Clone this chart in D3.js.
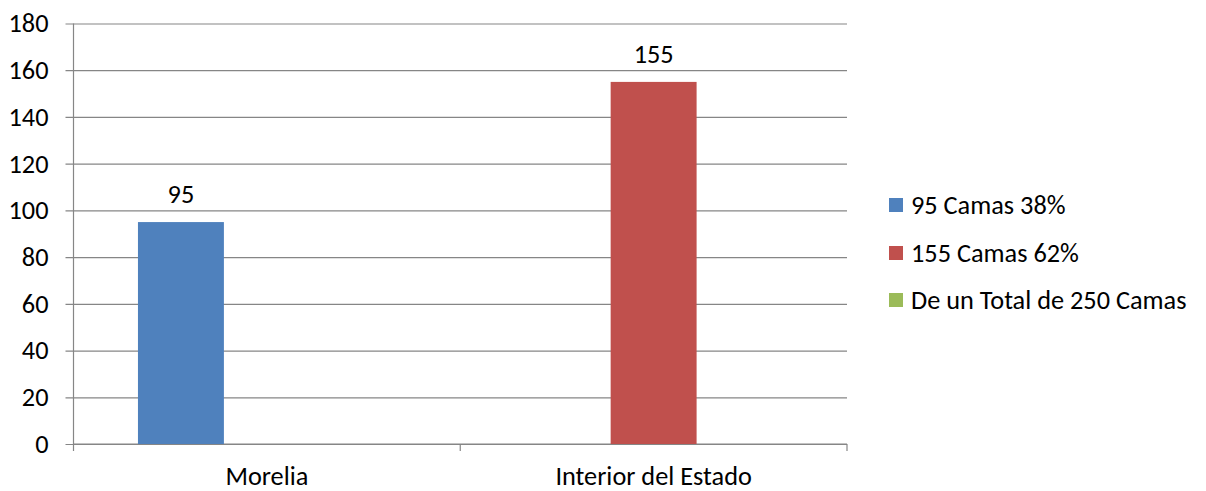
<!DOCTYPE html>
<html>
<head>
<meta charset="utf-8">
<script src="https://cdn.jsdelivr.net/npm/d3@7"></script>
<style>
  body { margin: 0; background: #fff; }
  text { font-family: Carlito, Calibri, Lato, sans-serif; fill: #000; }
</style>
</head>
<body>
<svg id="chart" width="1206" height="491"></svg>
<script>
const categories = ["Morelia", "Interior del Estado"];
const seriesNames = ["95 Camas 38%", "155 Camas 62%", "De un Total de 250 Camas"];
const seriesColors = ["#4F81BD", "#C0504D", "#9BBB59"];
// values per series, one per category (0 = no bar)
const seriesValues = [
  [95, 0],
  [0, 155],
  [0, 0]
];
const yTicks = [0, 20, 40, 60, 80, 100, 120, 140, 160, 180];

const svg = d3.select("#chart");
const plotLeft = 73.5, plotRight = 847, plotTop = 23.5, plotBottom = 444;
const fontSize = "26.3px";

const y = d3.scaleLinear().domain([0, 180]).range([plotBottom, plotTop]);
const x = d3.scaleBand().domain(categories).range([plotLeft, plotRight]).paddingInner(0).paddingOuter(0);
// gap width 150% -> outer padding on each side 0.75 bar width
const xs = d3.scaleBand().domain(d3.range(seriesNames.length))
  .range([0, x.bandwidth()]).paddingInner(0).paddingOuter(0.75);

const tickLen = plotRight - plotLeft + 8;
const yAxis = d3.axisLeft(y).tickValues(yTicks).tickSize(tickLen).tickPadding(17);
const gy = svg.append("g").attr("transform", `translate(${plotRight},0)`).call(yAxis);
gy.select(".domain").remove();
gy.selectAll("line").attr("stroke", "#868686").attr("stroke-width", 1.2);
gy.selectAll("text").style("font-size", fontSize).attr("fill", "#000");

// vertical axis line
svg.append("line").attr("x1", plotLeft).attr("x2", plotLeft).attr("y1", plotTop).attr("y2", plotBottom)
  .attr("stroke", "#868686").attr("stroke-width", 1.2);

// category axis
const catTicks = [plotLeft, x(categories[1]), plotRight];
svg.selectAll(".ctick").data(catTicks).enter().append("line")
  .attr("x1", d => d).attr("x2", d => d).attr("y1", plotBottom).attr("y2", plotBottom + 7)
  .attr("stroke", "#868686").attr("stroke-width", 1.2);
svg.append("line").attr("x1", plotLeft).attr("x2", plotRight).attr("y1", plotBottom).attr("y2", plotBottom)
  .attr("stroke", "#868686").attr("stroke-width", 1.2);
svg.selectAll(".clabel").data(categories).enter().append("text")
  .attr("x", d => x(d) + x.bandwidth() / 2).attr("y", 485)
  .attr("text-anchor", "middle").style("font-size", fontSize).text(d => d);

// bars
seriesValues.forEach((vals, si) => {
  vals.forEach((v, ci) => {
    if (!v) return;
    const bx = x(categories[ci]) + xs(si);
    svg.append("rect").attr("x", bx).attr("y", y(v))
      .attr("width", xs.bandwidth()).attr("height", plotBottom - y(v))
      .attr("fill", seriesColors[si]);
    svg.append("text").attr("x", bx + xs.bandwidth() / 2).attr("y", y(v) - 19)
      .attr("text-anchor", "middle").style("font-size", fontSize).text(v);
  });
});

// legend
const legendY = [205, 253, 300];
const lg = svg.selectAll(".leg").data(seriesNames).enter().append("g")
  .attr("transform", (d, i) => `translate(889,${legendY[i]})`);
lg.append("rect").attr("x", 0).attr("y", -7).attr("width", 14).attr("height", 14)
  .attr("fill", (d, i) => seriesColors[i]);
lg.append("text").attr("x", 22).attr("dy", "0.35em").style("font-size", fontSize).text(d => d);
</script>
</body>
</html>
